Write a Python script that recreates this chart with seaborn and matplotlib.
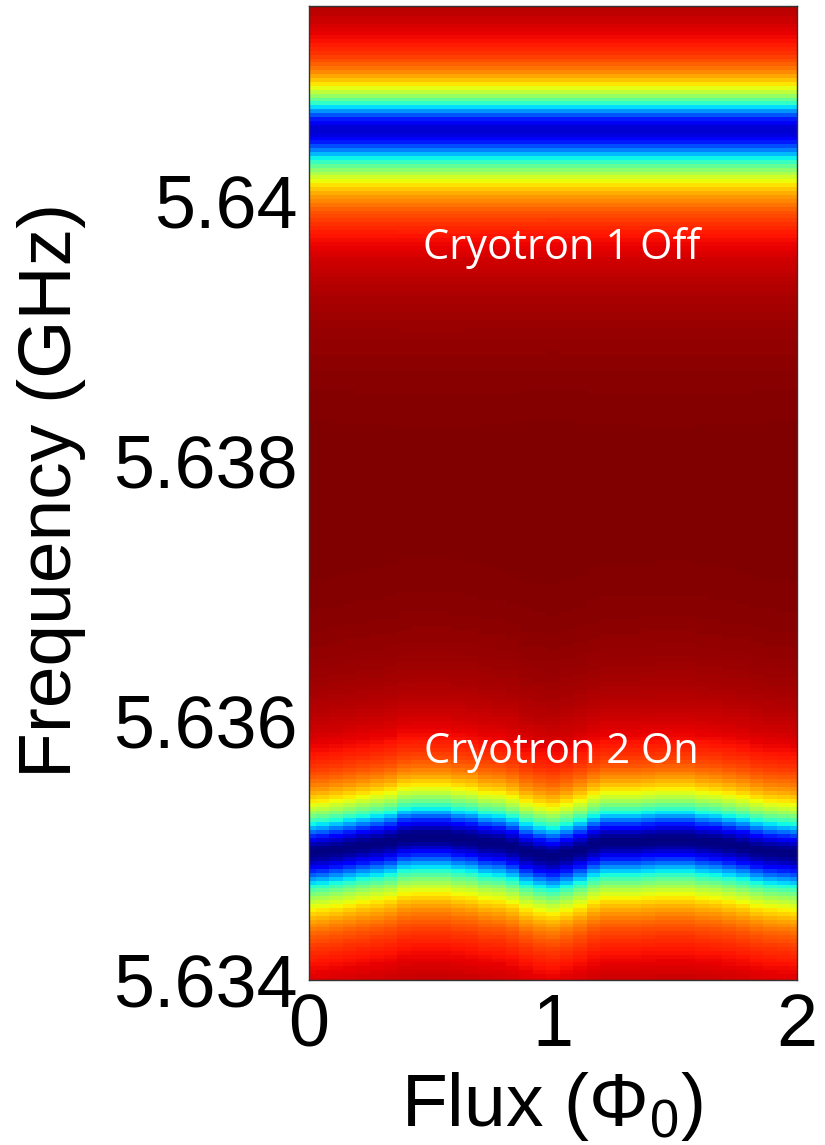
import numpy as np
import pandas as pd
import seaborn as sns
import matplotlib
matplotlib.use('Agg')
import matplotlib.pyplot as plt

# flux axis (in units of Phi_0) and frequency axis (GHz)
flux = np.linspace(0, 2, 37)
freq = np.round(np.arange(5.634, 5.6415 + 1e-9, 0.00003), 6)

# resonance of cryotron 1 (off): fixed position
top_center = 5.64055
top_depth = 0.93
top_hw_low = 0.00033
top_hw_high = 0.00027

bottom_center = [5.634982, 5.634990, 5.635005, 5.635020, 5.635036, 5.635051,
                 5.635067, 5.635098, 5.635106, 5.635106, 5.635106, 5.635090,
                 5.635082, 5.635059, 5.635051, 5.635028, 5.634990, 5.634966,
                 5.634951, 5.634974, 5.635005, 5.635044, 5.635067, 5.635067,
                 5.635067, 5.635075, 5.635082, 5.635082, 5.635082, 5.635067,
                 5.635059, 5.635044, 5.635028, 5.635005, 5.634990, 5.634982,
                 5.634974]
bottom_depth = 1.0
bottom_hw_low = 0.00033
bottom_hw_high = 0.00029

xticks = [0, 1, 2]
yticks = [5.634, 5.636, 5.638, 5.64]
ytick_labels = ['5.634', '5.636', '5.638', '5.64']


def dip(f, f0, depth, hw_low, hw_high):
    hw = np.where(f < f0, hw_low, hw_high)
    return depth / (1 + ((f - f0) / hw) ** 2)


# |S21| style transmission map, rows from high to low frequency
F = freq[::-1][:, None]
trans = 1 - dip(F, top_center, top_depth, top_hw_low, top_hw_high) \
          - dip(F, np.array(bottom_center)[None, :], bottom_depth, bottom_hw_low, bottom_hw_high)
df = pd.DataFrame(trans, index=freq[::-1], columns=np.round(flux, 4))

sns.set_theme(style='white')
plt.rcParams['font.family'] = ['Liberation Sans', 'DejaVu Sans']
plt.rcParams['mathtext.fontset'] = 'custom'
plt.rcParams['mathtext.rm'] = 'Liberation Sans'
plt.rcParams['mathtext.it'] = 'Liberation Sans'

fig = plt.figure(figsize=(8.25, 11.45), dpi=100)
ax = fig.add_axes([309 / 825, 1 - 980 / 1145, 488 / 825, 974 / 1145])
sns.heatmap(df, cmap='jet', cbar=False, ax=ax, xticklabels=False, yticklabels=False)

nrow, ncol = df.shape
fmax = freq[-1]
step = 0.00003
ax.set_xlim(0.5, ncol - 0.5)
ax.set_ylim(nrow - 0.5, 0.5)
ax.set_xticks([0.5 + v / (flux[1] - flux[0]) for v in xticks])
ax.set_xticklabels([str(v) for v in xticks])
ax.set_yticks([0.5 + (fmax - f) / step for f in yticks])
ax.set_yticklabels(ytick_labels, rotation=0)
ax.tick_params(axis='both', length=0, labelsize=53, colors='black')
ax.tick_params(axis='x', pad=9)
ax.tick_params(axis='y', pad=8)
ax.set_xlabel('')
ax.set_ylabel('')
for s in ax.spines.values():
    s.set_visible(True)
    s.set_color('#333333')
    s.set_linewidth(1)

ax.text(0.518, 0.752, 'Cryotron 1 Off', transform=ax.transAxes, ha='center', va='center',
        color='white', fontsize=30, family=['Open Sans', 'DejaVu Sans'])
ax.text(0.518, 0.234, 'Cryotron 2 On', transform=ax.transAxes, ha='center', va='center',
        color='white', fontsize=30, family=['Open Sans', 'DejaVu Sans'])

fig.text(52 / 825, 1 - 490 / 1145, 'Frequency (GHz)', rotation=90, ha='center', va='center',
         fontsize=54, color='black')
fig.text(552 / 825, 2 / 1145, r'Flux ($\Phi_0$)', ha='center', va='bottom', fontsize=54,
         color='black')

fig.savefig('out.png', dpi=100)
